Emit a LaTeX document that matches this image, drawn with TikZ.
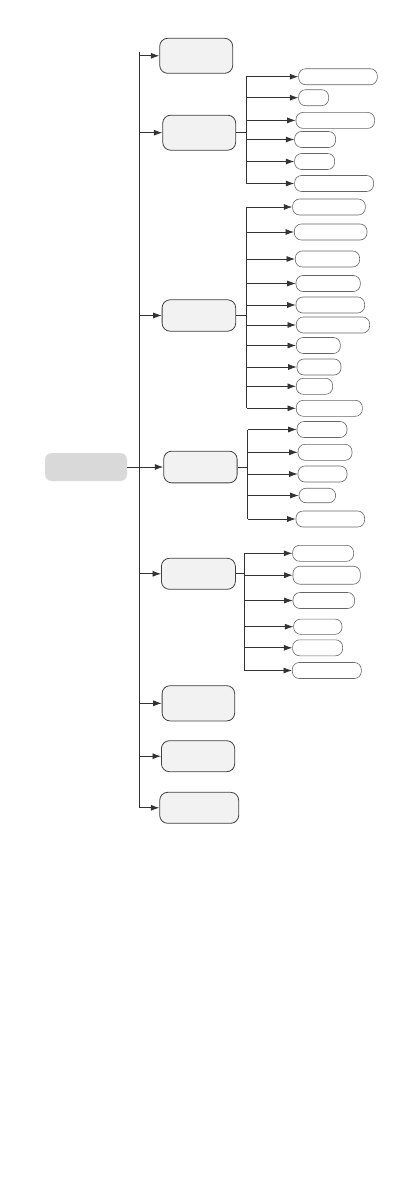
\documentclass[tikz,border=0pt]{standalone}
\usetikzlibrary{arrows.meta}
\begin{document}
\begin{tikzpicture}[x=1pt,y=-1pt,
  mainbox/.style={draw=black!75,fill=black!5,rounded corners=8pt,minimum height=34pt,anchor=west,line width=0.8pt,inner sep=0pt},
  leaf/.style={draw=black!60,fill=white,rounded corners=7pt,minimum height=16pt,anchor=west,line width=0.6pt,inner sep=0pt},
  rootbox/.style={fill=black!15,draw=black!10,rounded corners=7pt,minimum width=82pt,minimum height=28pt,inner sep=0pt},
  ln/.style={draw=black!80,line width=0.75pt},
  arr/.style={ln,-{Latex[length=8.5pt,width=6pt]}}]
\useasboundingbox (0,0) rectangle (411,1191);
% root
\node[rootbox] (root) at (86,467) {};
% main boxes
\node[mainbox,minimum width=73pt,minimum height=35pt] (m1) at (159.3,55.8) {};
\node[mainbox,minimum width=73pt,minimum height=35pt] (m2) at (162.3,132.7) {};
\node[mainbox,minimum width=73.6pt,minimum height=31.4pt] (m3) at (161.7,315.5) {};
\node[mainbox,minimum width=73.4pt,minimum height=31.7pt] (m4) at (163.3,467) {};
\node[mainbox,minimum width=74pt,minimum height=31pt] (m5) at (161,573.8) {};
\node[mainbox,minimum width=72.6pt,minimum height=35.3pt] (m6) at (161.7,703.3) {};
\node[mainbox,minimum width=73.3pt,minimum height=31pt] (m7) at (161,756.2) {};
\node[mainbox,minimum width=79pt,minimum height=31pt] (m8) at (159.3,807.8) {};
% trunk
\coordinate (tt) at (139.3,52.3);
\coordinate (tb) at (139.3,807.8);
\draw[ln] (tt) -- (tb);
\draw[ln] (root.east) -- (root.east -| tt);
\foreach \m in {m1,m2,m3,m4,m5,m6,m7,m8}{
  \draw[arr] (tt |- \m.west) -- (\m.west);
}
% branch 2
\node[leaf,minimum width=78.7pt] (c1) at (298.3,76.7) {};
\node[leaf,minimum width=30pt] (c2) at (298.3,97.7) {};
\node[leaf,minimum width=78.6pt] (c3) at (295.7,120.4) {};
\node[leaf,minimum width=41pt] (c4) at (294.3,139.5) {};
\node[leaf,minimum width=40pt] (c5) at (294.3,161.5) {};
\node[leaf,minimum width=79pt] (c6) at (294.3,183.5) {};
\coordinate (v2) at (246,132.7);
\draw[ln] (m2.east) -- (m2.east -| v2);
\draw[ln] (v2 |- c1.west) -- (v2 |- c6.west);
\foreach \c in {c1,c2,c3,c4,c5,c6}{
  \draw[arr] (v2 |- \c.west) -- (\c.west);
}
% branch 3
\node[leaf,minimum width=72.7pt] (d1) at (292.3,207) {};
\node[leaf,minimum width=72.7pt] (d2) at (294,232) {};
\node[leaf,minimum width=64.3pt] (d3) at (295,259) {};
\node[leaf,minimum width=64.3pt] (d4) at (295.7,283.5) {};
\node[leaf,minimum width=68.6pt] (d5) at (295.7,305) {};
\node[leaf,minimum width=73.3pt] (d6) at (296,325) {};
\node[leaf,minimum width=44pt] (d7) at (296,345.5) {};
\node[leaf,minimum width=44pt] (d8) at (296.7,367) {};
\node[leaf,minimum width=36.3pt] (d9) at (296,386.3) {};
\node[leaf,minimum width=66pt] (d10) at (296,408.3) {};
\coordinate (v3) at (246.7,317.3);
\draw[ln] (m3.east) -- (m3.east -| v3);
\draw[ln] (v3 |- d1.west) -- (v3 |- d10.west);
\foreach \c in {d1,d2,d3,d4,d5,d6,d7,d8,d9,d10}{
  \draw[arr] (v3 |- \c.west) -- (\c.west);
}
% branch 4
\node[leaf,minimum width=50pt] (e1) at (296.7,429.5) {};
\node[leaf,minimum width=54pt] (e2) at (297.7,452.3) {};
\node[leaf,minimum width=49pt] (e3) at (297.7,474) {};
\node[leaf,minimum width=36.6pt,minimum height=14.5pt] (e4) at (298.7,495.5) {};
\node[leaf,minimum width=68.6pt] (e5) at (295.7,519) {};
\coordinate (v4) at (247.7,467);
\draw[ln] (m4.east) -- (m4.east -| v4);
\draw[ln] (v4 |- e1.west) -- (v4 |- e5.west);
\foreach \c in {e1,e2,e3,e4,e5}{
  \draw[arr] (v4 |- \c.west) -- (\c.west);
}
% branch 5
\node[leaf,minimum width=61pt] (f1) at (292.3,553.3) {};
\node[leaf,minimum width=67.3pt,minimum height=18pt] (f2) at (292.7,575.2) {};
\node[leaf,minimum width=61.6pt] (f3) at (292.7,600.5) {};
\node[leaf,minimum width=48.4pt,minimum height=15.3pt] (f4) at (293.3,626.7) {};
\node[leaf,minimum width=50pt] (f5) at (292.3,647.8) {};
\node[leaf,minimum width=69pt] (f6) at (292,670.5) {};
\coordinate (v5) at (244.3,573.8);
\draw[ln] (m5.east) -- (m5.east -| v5);
\draw[ln] (v5 |- f1.west) -- (v5 |- f6.west);
\foreach \c in {f1,f2,f3,f4,f5,f6}{
  \draw[arr] (v5 |- \c.west) -- (\c.west);
}
\end{tikzpicture}
\end{document}
